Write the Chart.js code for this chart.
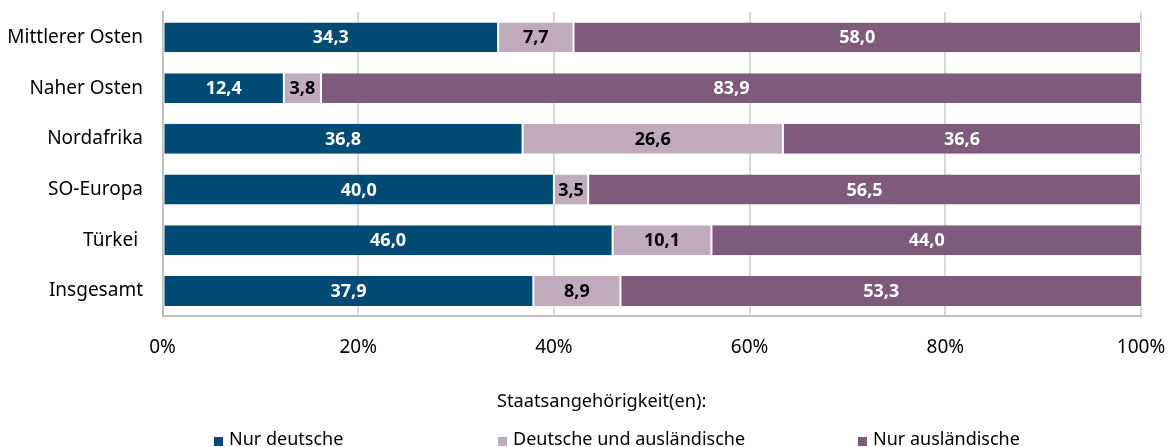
<!DOCTYPE html>
<html lang="de">
<head>
<meta charset="utf-8">
<script src="https://cdn.jsdelivr.net/npm/chart.js@4.4.1/dist/chart.umd.min.js"></script>
<style>
  body { margin: 0; background: #fff; font-family: "Noto Sans", sans-serif; color: #000; }
  #wrap { position: relative; width: 1168px; height: 447px; overflow: hidden; }
  #legend-title { position: absolute; left: 497px; top: 388px; font-size: 18.2px; line-height: 24px; white-space: nowrap; }
  #legend { position: absolute; left: 214px; top: 426px; display: flex; font-size: 18px; line-height: 24px; white-space: nowrap; }
  #legend .item { display: flex; align-items: center; }
  #legend .box { width: 9px; height: 9px; margin-right: 6px; position: relative; top: 3px; }
</style>
</head>
<body>
<div id="wrap">
  <canvas id="chart" width="1168" height="447"></canvas>
  <div id="legend-title"></div>
  <div id="legend"></div>
</div>
<script>
// Kategorien und Werte (Anteile in %)
const regionen = ['Mittlerer Osten', 'Naher Osten', 'Nordafrika', 'SO-Europa', 'Türkei ', 'Insgesamt'];
const nurDeutsche = [34.3, 12.4, 36.8, 40.0, 46.0, 37.9];
const deutscheUndAuslaendische = [7.7, 3.8, 26.6, 3.5, 10.1, 8.9];
const nurAuslaendische = [58.0, 83.9, 36.6, 56.5, 44.0, 53.3];
const serienNamen = ['Nur deutsche', 'Deutsche und ausländische', 'Nur ausländische'];
const xTicks = [0, 20, 40, 60, 80, 100];
const legendenTitel = 'Staatsangehörigkeit(en):';

const farben = ['#004b76', '#c0abbd', '#7f5a7a'];
const labelFarben = ['#ffffff', '#000000', '#ffffff'];
const legendBreiten = [284, 360, null];

// Werte in die Balken schreiben
const balkenWerte = {
    id: 'balkenWerte',
    afterDatasetsDraw(chart) {
        const ctx = chart.ctx;
        ctx.save();
        ctx.font = 'bold 18px "Noto Sans", sans-serif';
        ctx.textAlign = 'center';
        ctx.textBaseline = 'middle';
        chart.data.datasets.forEach((ds, i) => {
            const meta = chart.getDatasetMeta(i);
            meta.data.forEach((bar, j) => {
                const cx = (bar.x + bar.base) / 2;
                ctx.fillStyle = labelFarben[i];
                ctx.fillText(ds.data[j].toFixed(1).replace('.', ','), cx, bar.y + 1);
            });
        });
        ctx.restore();
    }
};

const datensaetze = [nurDeutsche, deutscheUndAuslaendische, nurAuslaendische].map((werte, i) => ({
    label: serienNamen[i],
    data: werte,
    backgroundColor: farben[i],
    borderColor: '#ffffff',
    borderWidth: { left: 1, right: 1, top: 0, bottom: 0 },
    borderSkipped: false,
    categoryPercentage: 0.59,
    barPercentage: 1
}));

new Chart(document.getElementById('chart').getContext('2d'), {
    type: 'bar',
    data: { labels: regionen, datasets: datensaetze },
    options: {
        indexAxis: 'y',
        responsive: false,
        animation: false,
        layout: { padding: { top: 12, right: 27, bottom: 68.6, left: 0 } },
        plugins: {
            legend: { display: false },
            tooltip: { enabled: false }
        },
        scales: {
            x: {
                stacked: true,
                min: 0,
                max: 100,
                afterBuildTicks: (scale) => { scale.ticks = xTicks.map(v => ({ value: v })); },
                afterFit: (scale) => { scale.paddingLeft = 0; scale.paddingRight = 0; },
                ticks: {
                    callback: (v) => v + '%',
                    color: '#000',
                    padding: 19.6,
                    maxRotation: 0,
                    font: { family: '"Noto Sans", sans-serif', size: 19 }
                },
                grid: { color: '#d9d9d9', lineWidth: 2, drawTicks: false },
                border: { color: '#bfbfbf', width: 2 }
            },
            y: {
                stacked: true,
                afterFit: (scale) => { scale.width = 162.5; scale.paddingTop = 0; scale.paddingBottom = 0; },
                ticks: {
                    color: '#000',
                    padding: 19.5,
                    font: { family: '"Noto Sans", sans-serif', size: 19 }
                },
                grid: { display: false, drawTicks: false },
                border: { display: true, color: '#bfbfbf', width: 2 }
            }
        }
    },
    plugins: [balkenWerte]
});

// Legende
document.getElementById('legend-title').textContent = legendenTitel;
const legend = document.getElementById('legend');
serienNamen.forEach((name, i) => {
    const item = document.createElement('div');
    item.className = 'item';
    if (legendBreiten[i]) item.style.width = legendBreiten[i] + 'px';
    const box = document.createElement('span');
    box.className = 'box';
    box.style.background = farben[i];
    const text = document.createElement('span');
    text.textContent = name;
    item.appendChild(box);
    item.appendChild(text);
    legend.appendChild(item);
});
</script>
</body>
</html>
